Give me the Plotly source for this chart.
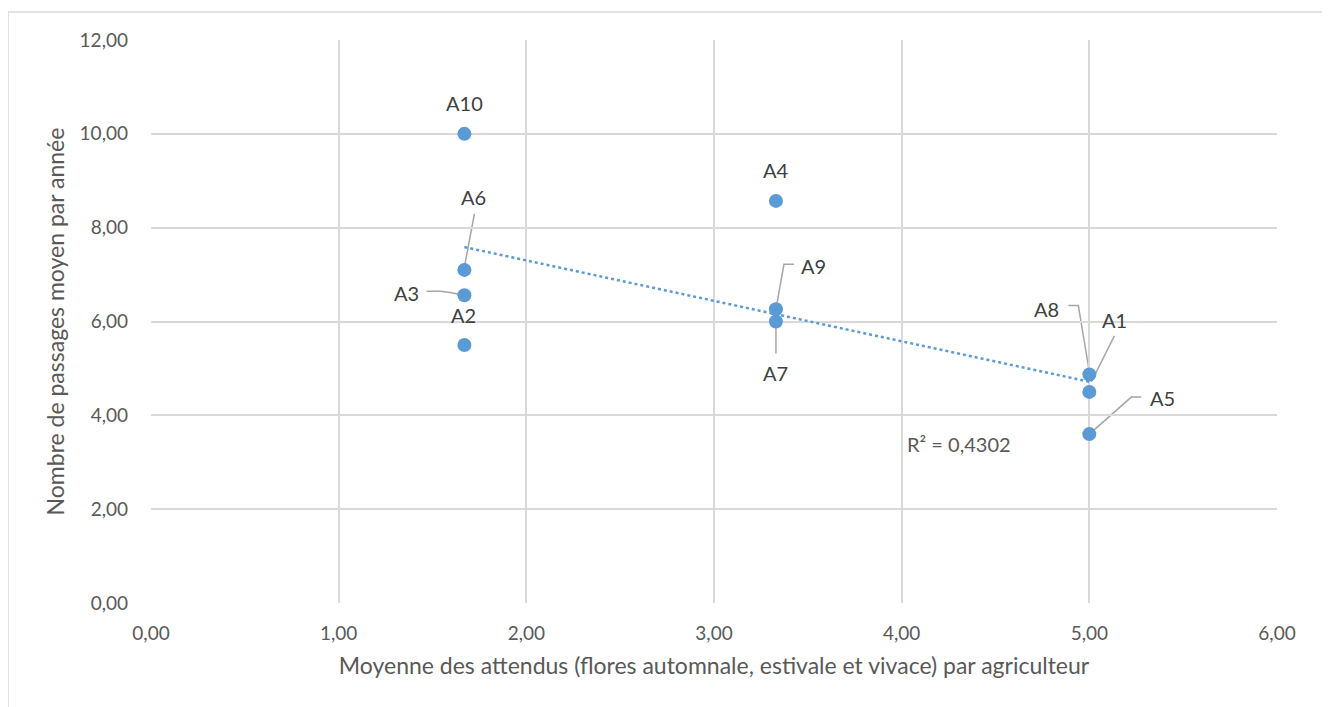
import numpy as np
import plotly.graph_objects as go

names = ["A1", "A2", "A3", "A4", "A5", "A6", "A7", "A8", "A9", "A10"]
x_vals = [5.0, 1.67, 1.67, 3.33, 5.0, 1.67, 3.33, 5.0, 3.33, 1.67]
y_vals = [4.5, 5.5, 6.56, 8.57, 3.6, 7.1, 6.0, 4.87, 6.26, 10.0]
r2_text = "R² = 0,4302"
x_title = "Moyenne des attendus (flores automnale, estivale et vivace) par agriculteur"
y_title = "Nombre de passages moyen par année"

# label offsets (pixels, y up) and leader paths (pixels relative to point, y up)
label_off = {
    "A10": (0, 31, None),
    "A6": (9, 73, [(10, 56), (0, 3)]),
    "A3": (-58, 2, [(-38, 4), (-24, 4), (-16, 3), (0, 0)]),
    "A2": (-1, 30, None),
    "A4": (0, 31, None),
    "A9": (38, 43, [(18, 45), (8, 45), (0, 0)]),
    "A7": (0, -51, [(0, -32), (0, 0)]),
    "A8": (-43, 66, [(-21, 69), (-11, 69), (0, 3)]),
    "A1": (25, 72, [(25, 56), (2, 10)]),
    "A5": (73, 36, [(52, 37), (42, 37), (0, 0)]),
}

BLUE = "#5B9BD5"
FONT = "Lato"

xa = np.array(x_vals)
ya = np.array(y_vals)
slope, intercept = np.polyfit(xa, ya, 1)
tx = np.array([xa.min(), xa.max()])
ty = slope * tx + intercept

fig = go.Figure()
fig.add_trace(go.Scatter(x=tx, y=ty, mode="lines",
                         line=dict(color=BLUE, width=2.5, dash="dot"),
                         hoverinfo="skip", showlegend=False))
fig.add_trace(go.Scatter(x=x_vals, y=y_vals, mode="markers",
                         marker=dict(color=BLUE, size=14),
                         text=names, showlegend=False))

annotations = []
shapes = []
for n, x, y in zip(names, x_vals, y_vals):
    dx, dy, path = label_off[n]
    annotations.append(dict(x=x, y=y, xref="x", yref="y", text=n, showarrow=False,
                            xshift=dx, yshift=dy,
                            font=dict(family=FONT, size=20, color="#404040")))
    if path:
        d = "M " + " L ".join(f"{px},{py}" for px, py in path)
        shapes.append(dict(type="path", xref="x", yref="y",
                           xsizemode="pixel", ysizemode="pixel",
                           xanchor=x, yanchor=y, path=d,
                           line=dict(color="#a6a6a6", width=1.5), layer="below"))

# R² label placed near trendline end
annotations.append(dict(x=tx[-1], y=ty[-1], xref="x", yref="y", text=r2_text,
                        showarrow=False, xshift=-130, yshift=-62,
                        font=dict(family=FONT, size=20, color="#595959")))

# chart area border
shapes.append(dict(type="rect", xref="paper", yref="paper",
                   x0=-0.127, x1=1.0417, y0=-0.3, y1=1.0497,
                   line=dict(color="#d9d9d9", width=1.5), layer="below"))

axis_common = dict(showgrid=True, gridcolor="#d9d9d9", gridwidth=1.5,
                   zeroline=False, showline=False, ticks="",
                   tickformat=".2f",
                   tickfont=dict(family=FONT, size=19, color="#595959"))

fig.update_layout(
    width=1330, height=707,
    margin=dict(l=143, r=61, t=32, b=112),
    paper_bgcolor="white", plot_bgcolor="white",
    separators=", ",
    xaxis=dict(range=[0, 6], dtick=1, tick0=0, ticklabelstandoff=17,
               title=dict(text=x_title, standoff=14,
                          font=dict(family=FONT, size=23, color="#595959")),
               **axis_common),
    yaxis=dict(range=[0, 12], dtick=2, tick0=0, ticklabelstandoff=22,
               title=dict(text=y_title, standoff=8,
                          font=dict(family=FONT, size=23, color="#595959")),
               **axis_common),
    annotations=annotations,
    shapes=shapes,
    showlegend=False,
)

fig.write_html("out.html")
